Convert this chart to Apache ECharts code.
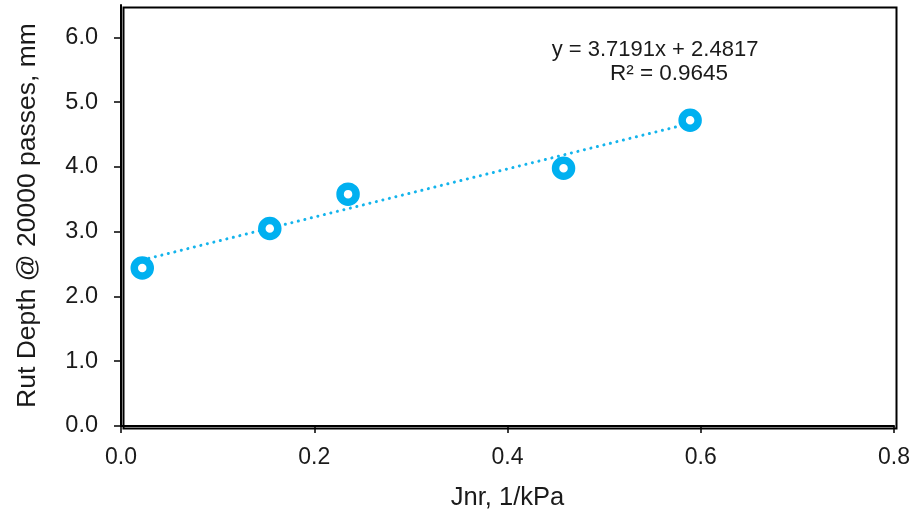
<!DOCTYPE html>
<html><head><meta charset="utf-8">
<script src="https://cdn.jsdelivr.net/npm/echarts@6/dist/echarts.min.js"></script>
<style>html,body{margin:0;padding:0;background:#fff}#c{width:916px;height:516px}</style>
</head><body><div id="c"></div>
<script>
const jnr = [0.022, 0.154, 0.235, 0.458, 0.589];
const rutDepth = [2.44, 3.05, 3.58, 3.98, 4.72];
const slope = 3.7191;
const intercept = 2.4817;
const rSquared = 0.9645;
const xTicks = [0, 0.2, 0.4, 0.6, 0.8];
const yTicks = [0, 1, 2, 3, 4, 5, 6];

const xMin = Math.min(...jnr), xMax = Math.max(...jnr);
const trend = [[xMin, slope * xMin + intercept], [xMax, slope * xMax + intercept]];
const font = 'Liberation Sans, Arial, sans-serif';
const txt = '#1a1a1a';
const chart = echarts.init(document.getElementById('c'));
chart.setOption({
  animation: false,
  backgroundColor: '#fff',
  grid: {left: 121, right: 22, top: 5, bottom: 90},
  xAxis: {
    type: 'value', min: 0, max: 0.8, interval: 0.2,
    name: 'Jnr, 1/kPa', nameLocation: 'middle', nameGap: 59,
    nameTextStyle: {fontFamily: font, fontSize: 25.5, color: txt},
    axisLine: {show: true, lineStyle: {color: '#000', width: 2}},
    axisTick: {show: true, length: 7, lineStyle: {color: '#000', width: 1.5}, customValues: xTicks},
    axisLabel: {fontFamily: font, fontSize: 23, color: txt, margin: 20, customValues: xTicks,
      formatter: v => v.toFixed(1)},
    splitLine: {show: false}
  },
  yAxis: {
    type: 'value', min: 0, max: 6.5, interval: 1,
    name: 'Rut Depth @ 20000 passes, mm', nameLocation: 'middle', nameGap: 80,
    nameTextStyle: {fontFamily: font, fontSize: 26.5, color: txt},
    axisLine: {show: true, lineStyle: {color: '#000', width: 2}},
    axisTick: {show: true, length: 7, lineStyle: {color: '#000', width: 1.5}, customValues: yTicks},
    axisLabel: {fontFamily: font, fontSize: 23.5, color: txt, margin: 23, customValues: yTicks,
      formatter: v => v.toFixed(1)},
    splitLine: {show: false}
  },
  graphic: [
    {type: 'rect', left: 121, top: 5, shape: {width: 773, height: 421},
     style: {fill: 'none', stroke: '#000', lineWidth: 2}, silent: true, z: 0},
    {type: 'text', x: 655, y: 50, style: {text: 'y = ' + slope + 'x + ' + intercept,
      font: '22px ' + font, fill: txt, align: 'center', verticalAlign: 'middle'}},
    {type: 'text', x: 669, y: 74, style: {text: 'R² = ' + rSquared,
      font: '22.5px ' + font, fill: txt, align: 'center', verticalAlign: 'middle'}}
  ],
  series: [
    {type: 'line', data: trend, symbol: 'none', silent: true, z: 1,
     lineStyle: {color: '#14B4EC', width: 3, type: [0.1, 6.6], cap: 'round'}},
    {type: 'scatter', data: jnr.map((x, i) => [x, rutDepth[i]]), z: 3,
     symbol: 'circle', symbolSize: 16,
     itemStyle: {color: '#fff', borderColor: '#00B0F0', borderWidth: 7.5, opacity: 1}}
  ]
});
</script></body></html>
